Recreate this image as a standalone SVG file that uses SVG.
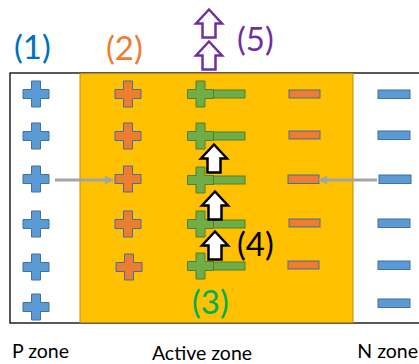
<svg xmlns="http://www.w3.org/2000/svg" xmlns:xlink="http://www.w3.org/1999/xlink" width="419" height="364" viewBox="0 0 419 364">
<style>
.lbl{font-family:Lato,"Liberation Sans",sans-serif;font-size:33px}
.zone{font-family:Lato,"Liberation Sans",sans-serif;font-size:19.5px;fill:#000}
.pb{fill:#5B9BD5;stroke:#41719C;stroke-width:1}
.po{fill:#ED7D31;stroke:#41719C;stroke-width:1}
.pg{fill:#70AD47;stroke:#507E32;stroke-width:1}
.blk{fill:#fff;stroke:#000;stroke-width:2.5;stroke-linejoin:miter}
.pur{fill:#fff;stroke:#7030A0;stroke-width:2.5;stroke-linejoin:miter}
.conn{stroke:#A5A5A5;stroke-width:3;fill:none}
</style>
<defs>
<path id="cross" d="M-4.5,-13h9v8.5h8.5v9h-8.5v8.5h-9v-8.5h-8.5v-9h8.5z"/>
<path id="uparrow" d="M0,0L13,14L6.5,14L6.5,28L-6.5,28L-6.5,14L-13,14Z"/>
<marker id="ah" viewBox="0 0 10 10" refX="9" refY="5" markerWidth="3.5" markerHeight="3" orient="auto" markerUnits="strokeWidth">
<path d="M0,0L10,5L0,10Z" fill="#A5A5A5"/>
</marker>
</defs>
<rect x="0" y="0" width="419" height="364" fill="#fff"/>
<g id="p-zone">
<rect x="10" y="73" width="420" height="250" fill="#fff" stroke="#000" stroke-width="1.3"/>
</g>
<g id="active-zone">
<rect x="80" y="73.6" width="273" height="249" fill="#FFC000" stroke="#BF9000" stroke-width="1"/>
</g>
<g id="p-holes">
<use xlink:href="#cross" x="36" y="94" class="pb"/>
<use xlink:href="#cross" x="36" y="136" class="pb"/>
<use xlink:href="#cross" x="36" y="179" class="pb"/>
<use xlink:href="#cross" x="36" y="224" class="pb"/>
<use xlink:href="#cross" x="36" y="267" class="pb"/>
<use xlink:href="#cross" x="36" y="307" class="pb"/>
</g>
<g id="active-holes">
<use xlink:href="#cross" x="128" y="94" class="po"/>
<use xlink:href="#cross" x="128" y="136" class="po"/>
<use xlink:href="#cross" x="128" y="179" class="po"/>
<use xlink:href="#cross" x="128" y="224" class="po"/>
<use xlink:href="#cross" x="129" y="267" class="po"/>
</g>
<g id="recombination">
<rect x="213" y="90" width="32" height="8" class="pg"/>
<use xlink:href="#cross" x="200.5" y="94" class="pg"/>
<rect x="213" y="132" width="32" height="8" class="pg"/>
<use xlink:href="#cross" x="200.5" y="136" class="pg"/>
<rect x="213" y="176" width="32" height="8" class="pg"/>
<use xlink:href="#cross" x="200.5" y="180" class="pg"/>
<rect x="213" y="220" width="32" height="8" class="pg"/>
<use xlink:href="#cross" x="200.5" y="224" class="pg"/>
<rect x="213" y="262" width="32" height="8" class="pg"/>
<use xlink:href="#cross" x="200.5" y="266" class="pg"/>
</g>
<g id="active-electrons">
<rect x="289" y="90" width="31" height="8" class="po"/>
<rect x="289" y="131" width="31" height="8" class="po"/>
<rect x="288" y="175" width="31" height="8.5" class="po"/>
<rect x="289" y="219" width="31" height="8" class="po"/>
<rect x="288" y="261" width="31" height="8" class="po"/>
</g>
<g id="n-electrons">
<rect x="378" y="90" width="32" height="8.5" class="pb"/>
<rect x="378" y="131" width="32" height="8.5" class="pb"/>
<rect x="379" y="175" width="32" height="8.5" class="pb"/>
<rect x="378" y="219" width="32" height="8.5" class="pb"/>
<rect x="378" y="261" width="32" height="8.5" class="pb"/>
<rect x="378" y="299" width="32" height="8.5" class="pb"/>
</g>
<g id="photons-inner">
<use xlink:href="#uparrow" x="214" y="144.5" class="blk"/>
<use xlink:href="#uparrow" x="215" y="191.5" class="blk"/>
<use xlink:href="#uparrow" x="215" y="231.5" class="blk"/>
</g>
<g id="photons-out">
<use xlink:href="#uparrow" x="209" y="9.5" class="pur"/>
<use xlink:href="#uparrow" x="209" y="41.5" class="pur"/>
</g>
<g id="connectors">
<line x1="55" y1="180" x2="113" y2="180" class="conn" marker-end="url(#ah)"/>
<line x1="377" y1="180" x2="319" y2="180" class="conn" marker-end="url(#ah)"/>
</g>
<g id="labels">
<text x="14" y="59" class="lbl" fill="#0070C0">(1)</text>
<text x="106" y="60" class="lbl" fill="#ED7D31">(2)</text>
<text x="237" y="51" class="lbl" fill="#7030A0">(5)</text>
<text x="237" y="256" class="lbl" fill="#000">(4)</text>
<text x="192" y="314" class="lbl" fill="#00B050">(3)</text>
<text x="12" y="358" class="zone">P zone</text>
<text x="202" y="360" class="zone" text-anchor="middle">Active zone</text>
<text x="418" y="358" class="zone" text-anchor="end">N zone</text>
</g>
</svg>
